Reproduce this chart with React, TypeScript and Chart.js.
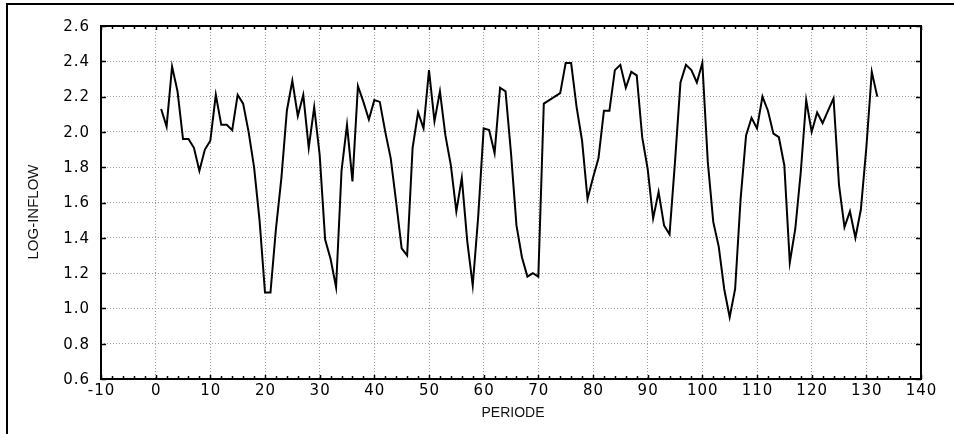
import { useEffect, useRef } from 'react';
import { Chart, registerables } from 'chart.js';

Chart.register(...registerables);

const periods = [
  1, 2, 3, 4, 5, 6, 7, 8, 9, 10, 11, 12, 13, 14, 15, 16, 17, 18, 19, 20,
  21, 22, 23, 24, 25, 26, 27, 28, 29, 30, 31, 32, 33, 34, 35, 36, 37, 38, 39, 40,
  41, 42, 43, 44, 45, 46, 47, 48, 49, 50, 51, 52, 53, 54, 55, 56, 57, 58, 59, 60,
  61, 62, 63, 64, 65, 66, 67, 68, 69, 70, 71, 72, 73, 74, 75, 76, 77, 78, 79, 80,
  81, 82, 83, 84, 85, 86, 87, 88, 89, 90, 91, 92, 93, 94, 95, 96, 97, 98, 99, 100,
  101, 102, 103, 104, 105, 106, 107, 108, 109, 110, 111, 112, 113, 114, 115, 116, 117, 118, 119, 120,
  121, 122, 123, 124, 125, 126, 127, 128, 129, 130, 131, 132,
];

const logInflow = [
  2.13, 2.03, 2.37, 2.23, 1.96, 1.96, 1.91, 1.78, 1.90, 1.95,
  2.21, 2.04, 2.04, 2.01, 2.21, 2.16, 2.00, 1.80, 1.50, 1.09,
  1.09, 1.45, 1.74, 2.12, 2.29, 2.09, 2.21, 1.91, 2.14, 1.87,
  1.39, 1.28, 1.12, 1.78, 2.04, 1.72, 2.26, 2.17, 2.07, 2.18,
  2.17, 2.00, 1.85, 1.60, 1.34, 1.30, 1.91, 2.11, 2.02, 2.35,
  2.06, 2.23, 1.98, 1.81, 1.55, 1.74, 1.38, 1.13, 1.52, 2.02,
  2.01, 1.88, 2.25, 2.23, 1.88, 1.47, 1.29, 1.18, 1.20, 1.18,
  2.16, 2.18, 2.20, 2.22, 2.39, 2.39, 2.14, 1.95, 1.62, 1.74,
  1.85, 2.12, 2.12, 2.35, 2.38, 2.25, 2.34, 2.32, 1.97, 1.79,
  1.51, 1.66, 1.47, 1.42, 1.83, 2.28, 2.38, 2.35, 2.28, 2.39,
  1.83, 1.49, 1.35, 1.11, 0.95, 1.11, 1.62, 1.98, 2.08, 2.02,
  2.20, 2.12, 1.99, 1.97, 1.81, 1.26, 1.45, 1.77, 2.18, 2.00,
  2.11, 2.05, 2.12, 2.19, 1.70, 1.46, 1.55, 1.40, 1.56, 1.91,
  2.34, 2.20,
];

const xMin = -10;
const xMax = 140;
const xStep = 10;
const xMinorStep = 2;
const yMin = 0.6;
const yMax = 2.6;
const yStep = 0.2;
const xTitle = 'PERIODE';
const yTitle = 'LOG-INFLOW';

const framePlugin = {
  id: 'framePlugin',
  afterDraw(chart: any) {
    const ctx: CanvasRenderingContext2D = chart.ctx;
    const { left, right, top, bottom } = chart.chartArea;
    const xs = chart.scales.x;
    const ys = chart.scales.y;
    ctx.save();
    ctx.strokeStyle = '#000';

    // outer frame (top and left visible)
    ctx.lineWidth = 2;
    ctx.beginPath();
    ctx.moveTo(7, 434);
    ctx.lineTo(7, 4);
    ctx.lineTo(954, 4);
    ctx.stroke();

    // plot box
    ctx.lineWidth = 2;
    ctx.strokeRect(left, top, right - left, bottom - top);

    // inward tick marks
    ctx.lineWidth = 1.5;
    ctx.beginPath();
    for (let v = xs.min; v <= xs.max + 1e-9; v += xMinorStep) {
      const px = Math.round(xs.getPixelForValue(v)) + 0.5;
      const major = Math.abs(Math.round(v) % xStep) === 0;
      const len = major ? 4 : 3;
      ctx.moveTo(px, bottom);
      ctx.lineTo(px, bottom - len);
      ctx.moveTo(px, top);
      ctx.lineTo(px, top + len);
    }
    ys.ticks.forEach((t: any) => {
      const py = Math.round(ys.getPixelForValue(t.value)) + 0.5;
      ctx.moveTo(left, py);
      ctx.lineTo(left + 5, py);
      ctx.moveTo(right, py);
      ctx.lineTo(right - 5, py);
    });
    ctx.stroke();

    // tick labels
    ctx.fillStyle = '#000';
    ctx.font = '15px "DejaVu Sans"';
    const spacing = 1;
    (ctx as any).letterSpacing = spacing + 'px';
    ctx.textBaseline = 'middle';
    ctx.textAlign = 'left';
    xs.ticks.forEach((t: any) => {
      const label = String(Math.round(t.value));
      const w = ctx.measureText(label).width;
      const px = xs.getPixelForValue(t.value);
      ctx.fillText(label, px - (w - spacing) / 2, 391);
    });
    ys.ticks.forEach((t: any) => {
      const label = Number(t.value).toFixed(1);
      const w = ctx.measureText(label).width;
      const py = ys.getPixelForValue(t.value);
      ctx.fillText(label, 89 - w + spacing, py + 1);
    });
    (ctx as any).letterSpacing = '0px';

    // axis titles
    ctx.fillStyle = '#111';
    ctx.textAlign = 'center';
    ctx.font = '14px "Liberation Sans"';
    ctx.fillText(xTitle, (left + right) / 2 + 2, 413);
    ctx.save();
    ctx.translate(34, 212);
    ctx.rotate(-Math.PI / 2);
    ctx.font = '15px "Liberation Sans"';
    ctx.fillText(yTitle, 0, 0);
    ctx.restore();

    ctx.restore();
  },
};

export default function App() {
  const canvasRef = useRef<HTMLCanvasElement | null>(null);

  useEffect(() => {
    document.body.style.margin = '0';
    document.body.style.background = '#fff';
    const canvas = canvasRef.current;
    if (!canvas) return;
    const points = periods.map((p, i) => ({ x: p, y: logInflow[i] }));
    const chart = new Chart(canvas, {
      type: 'line',
      data: {
        datasets: [
          {
            data: points,
            borderColor: '#000',
            borderWidth: 2,
            pointRadius: 0,
            tension: 0,
            fill: false,
          },
        ],
      },
      options: {
        animation: false,
        responsive: false,
        maintainAspectRatio: false,
        devicePixelRatio: 1,
        layout: { padding: { top: 26, right: 33, left: 0, bottom: 0 } },
        plugins: {
          legend: { display: false },
          tooltip: { enabled: false },
        },
        scales: {
          x: {
            type: 'linear',
            min: xMin,
            max: xMax,
            ticks: { display: false, stepSize: xStep },
            grid: { color: '#9a9a9a', lineWidth: 1, drawTicks: false },
            border: { display: false, dash: [1, 2] },
            afterFit(scale: any) {
              scale.height = 55;
            },
          },
          y: {
            type: 'linear',
            min: yMin,
            max: yMax,
            ticks: { display: false, stepSize: yStep },
            grid: { color: '#9a9a9a', lineWidth: 1, drawTicks: false },
            border: { display: false, dash: [1, 2] },
            afterFit(scale: any) {
              scale.width = 101;
            },
          },
        },
      },
      plugins: [framePlugin],
    });
    return () => chart.destroy();
  }, []);

  return (
    <div style={{ width: 954, height: 434, background: '#fff' }}>
      <canvas ref={canvasRef} width={954} height={434} style={{ display: 'block' }} />
    </div>
  );
}
